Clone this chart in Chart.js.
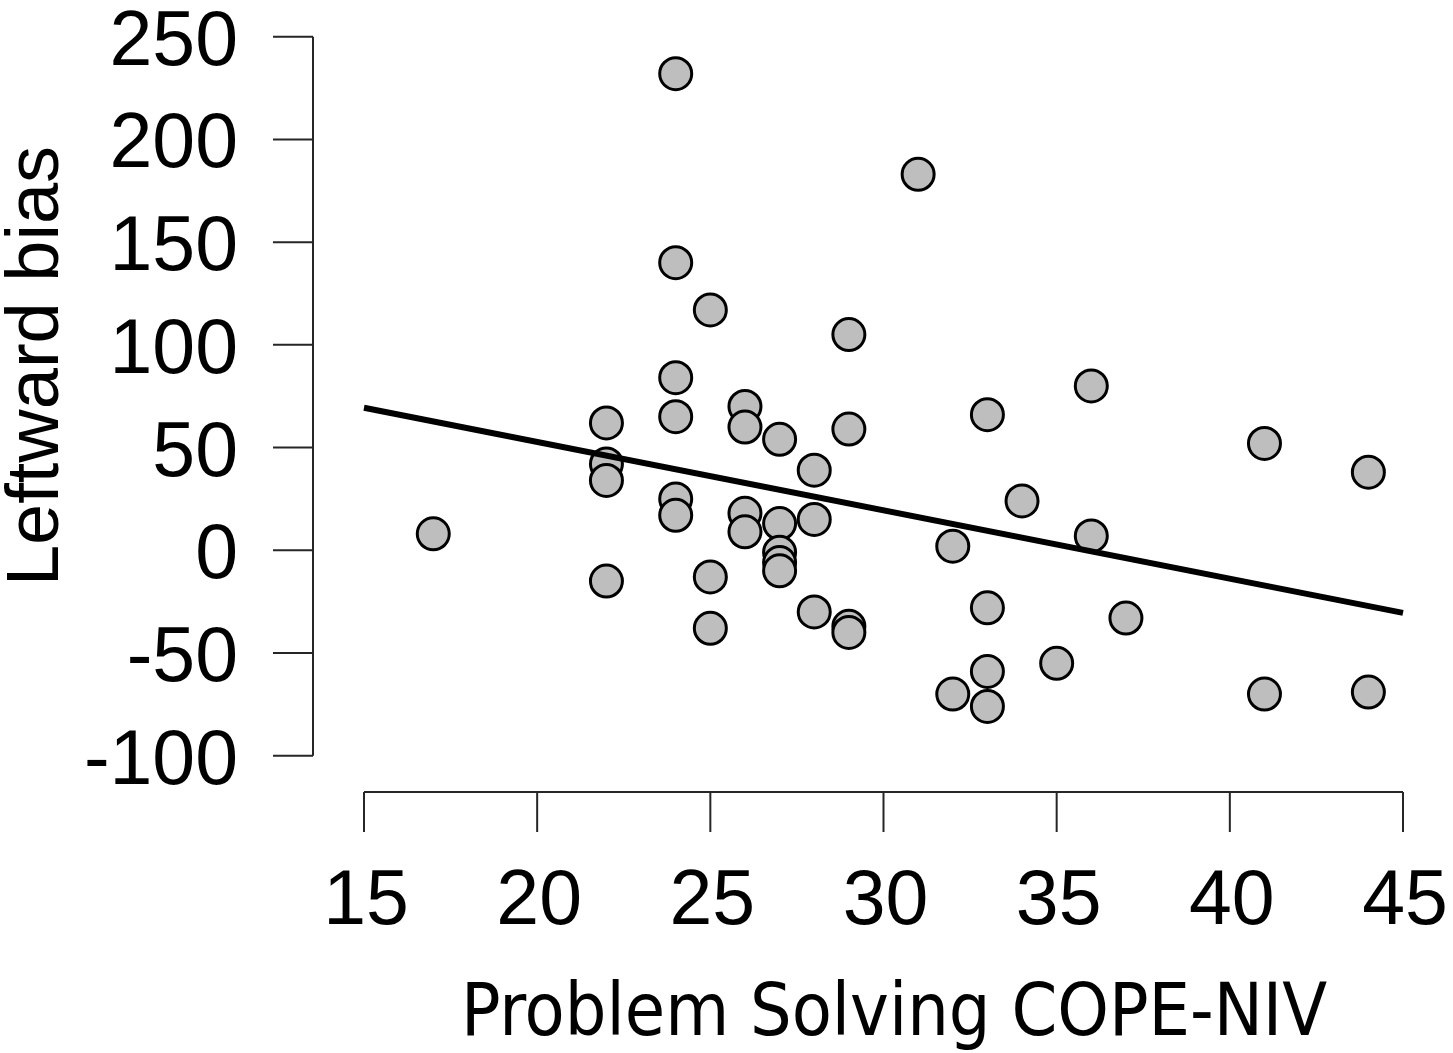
<!doctype html>
<html>
	<head>
		<title>Leftward bias vs Problem Solving</title>
		<meta charset="utf-8">
		<script src="https://cdn.jsdelivr.net/npm/chart.js@4.4.1/dist/chart.umd.min.js"></script>
		<style>
			body { margin: 0; background: #fff; }
			canvas { display: block; }
		</style>
	</head>
	<body>
		<canvas id="canvas" width="1453" height="1053"></canvas>

<script>
// values
var copeScore = [17, 22, 22, 22, 22, 24, 24, 24, 24, 24, 24, 25, 25, 25, 26, 26, 26, 26,
	27, 27, 27, 27, 27, 28, 28, 28, 29, 29, 29, 29, 31, 32, 32, 33, 33, 33, 33,
	34, 35, 36, 36, 37, 41, 41, 44, 44];
var leftBias  = [8, 62, 42, 34, -15, 232, 140, 84, 65, 25, 17, 117, -13, -38, 70, 60, 18, 9,
	54, 13, -1, -6, -10, 39, 15, -30, 105, 59, -37, -40, 183, 2, -70, 66, -28, -59, -76,
	24, -55, 80, 7, -33, 52, -70, 38, -69];

// fitted line, its two ends
var fitX = [15, 45];
var fitY = [69.4, -30.5];

var xTicks = [15, 20, 25, 30, 35, 40, 45];
var yTicks = [-100, -50, 0, 50, 100, 150, 200, 250];

var xTitle = 'Problem Solving COPE-NIV';
var yTitle = 'Leftward bias';

var points = [];
for (var i = 0; i < copeScore.length; i++) {
	points.push({x: copeScore[i], y: leftBias[i]});
}
var fitLine = [];
for (var j = 0; j < fitX.length; j++) {
	fitLine.push({x: fitX[j], y: fitY[j]});
}

// R-style detached axes, drawn from the scales
var rAxes = {
	id: 'rAxes',
	afterDraw: function(chart) {
		var ctx = chart.ctx;
		var xs = chart.scales.x;
		var ys = chart.scales.y;
		var yAxisX = 313;
		var xAxisY = 792;
		var tickLen = 40;

		ctx.save();
		ctx.strokeStyle = '#262626';
		ctx.lineWidth = 2;
		ctx.fillStyle = '#000';

		// y axis
		ctx.beginPath();
		ctx.moveTo(yAxisX, ys.getPixelForValue(yTicks[0]));
		ctx.lineTo(yAxisX, ys.getPixelForValue(yTicks[yTicks.length - 1]));
		yTicks.forEach(function(v) {
			var py = ys.getPixelForValue(v);
			ctx.moveTo(yAxisX - tickLen, py);
			ctx.lineTo(yAxisX, py);
		});
		ctx.stroke();

		ctx.font = '77px "Liberation Sans", Arial, sans-serif';
		ctx.textAlign = 'right';
		ctx.textBaseline = 'alphabetic';
		yTicks.forEach(function(v) {
			ctx.fillText(String(v), yAxisX - tickLen - 35, ys.getPixelForValue(v) + 28);
		});

		// x axis
		ctx.beginPath();
		ctx.moveTo(xs.getPixelForValue(xTicks[0]), xAxisY);
		ctx.lineTo(xs.getPixelForValue(xTicks[xTicks.length - 1]), xAxisY);
		xTicks.forEach(function(v) {
			var px = xs.getPixelForValue(v);
			ctx.moveTo(px, xAxisY);
			ctx.lineTo(px, xAxisY + tickLen);
		});
		ctx.stroke();

		ctx.textAlign = 'center';
		xTicks.forEach(function(v) {
			ctx.fillText(String(v), xs.getPixelForValue(v) + 2, 924);
		});

		// titles
		ctx.font = '73px "DejaVu Sans Condensed", "DejaVu Sans", sans-serif';
		ctx.fillText(xTitle, 894, 1035);

		ctx.font = '74px "Liberation Sans", Arial, sans-serif';
		ctx.translate(58, 366);
		ctx.rotate(-Math.PI / 2);
		ctx.fillText(yTitle, 0, 0);
		ctx.restore();
	}
};

new Chart(document.getElementById('canvas'), {
	type: 'scatter',
	data: {
		datasets: [{
			type: 'line',
			data: fitLine,
			borderColor: '#000',
			borderWidth: 6,
			pointRadius: 0,
			fill: false,
			order: 0
		}, {
			data: points,
			pointRadius: 16,
			pointBackgroundColor: '#bebebe',
			pointBorderColor: '#000',
			pointBorderWidth: 3,
			order: 1
		}]
	},
	options: {
		responsive: false,
		animation: false,
		clip: false,
		layout: {
			padding: {left: 364, right: 50, top: 36.7, bottom: 297.3}
		},
		plugins: {
			legend: {display: false},
			tooltip: {enabled: false}
		},
		scales: {
			x: {type: 'linear', min: 15, max: 45, display: false},
			y: {type: 'linear', min: -100, max: 250, display: false}
		}
	},
	plugins: [rAxes]
});
</script>
	</body>
</html>
